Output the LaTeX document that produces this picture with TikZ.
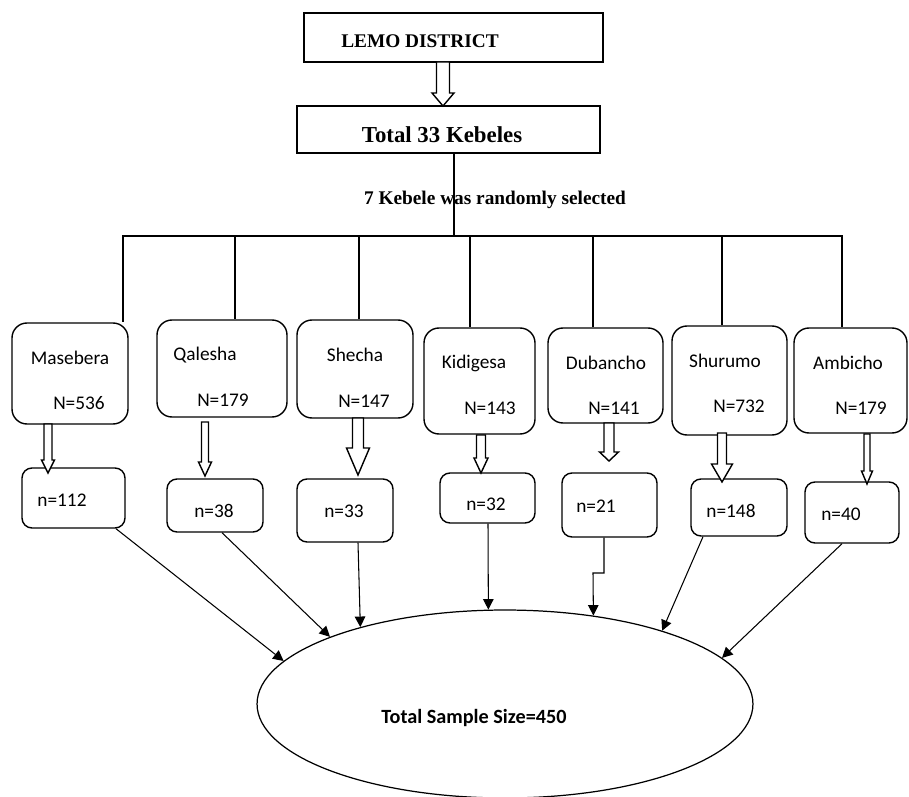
\documentclass[tikz,border=0pt]{standalone}
\usepackage{fontspec}
\setmainfont{Liberation Serif}
\newfontfamily\calibri{Carlito}
\usetikzlibrary{positioning, calc, arrows.meta, shapes.geometric}

% hollow block arrow pointing down: x, y top, y tip, shaft width, head width, head length
\newcommand{\hollowdown}[6]{%
  \draw[hollow] (#1-#4/2,#2) -- (#1-#4/2,#3-#6) -- (#1-#5/2,#3-#6) -- (#1,#3)
    -- (#1+#5/2,#3-#6) -- (#1+#4/2,#3-#6) -- (#1+#4/2,#2) -- cycle;
}

\begin{document}
\begin{tikzpicture}[
  x=0.02cm, y=-0.02cm,
  font=\calibri\fontsize{11}{13}\selectfont,
  topbox/.style={draw, line width=0.8pt, inner sep=0pt},
  kbox/.style={draw, rounded corners=0.3cm, line width=0.8pt, inner sep=0pt},
  nbox/.style={draw, rounded corners=0.2cm, line width=0.8pt, inner sep=0pt},
  lbl/.style={inner sep=0pt, anchor=base},
  hollow/.style={draw, fill=white, line width=0.8pt},
  tree/.style={line width=0.6pt},
  pointer/.style={line width=0.6pt, -{Triangle[length=6pt,width=6pt]}},
]
\useasboundingbox (0,0) rectangle (909,797);

% ---- district and kebele total ----
\node[topbox, minimum width=5.98cm, minimum height=0.98cm] (D) at (453.5,37.5) {};
\node[lbl, font=\rmfamily\bfseries\fontsize{11}{13}\selectfont] (D-name) at (420,48) {LEMO DISTRICT};
\node[topbox, minimum width=6.06cm, minimum height=0.94cm] (T) at (448.5,129.5) {};
\node[lbl, font=\bfseries\fontsize{13}{15}\selectfont] (T-name) at (442,143)
  {Total 33 {\rmfamily Kebeles}};
\hollowdown{443}{62}{106}{13}{22}{13}

% ---- selected kebeles (population) ----
\foreach \k/\nm/\xl/\yt/\xr/\yb/\nx/\ny/\Nv/\Nx/\Ny in {
  1/Masebera/12/323/128/424/70/364/536/79/409,
  2/Qalesha/157/320/287/417/205/360/179/223/406,
  3/Shecha/297/320/413/418/355/361/147/364/407,
  4/Kidigesa/424/328/535/434/474/368/143/490/414,
  5/Dubancho/548/328/663/423/606/369/141/614/414,
  6/Shurumo/672/326/787/435/725/367/732/739/412,
  7/Ambicho/794/328/907/433/848/369/179/861/414}{
  \node[kbox, minimum width={(\xr-\xl)*0.02cm}, minimum height={(\yb-\yt)*0.02cm}]
    (U\k) at ({(\xl+\xr)/2},{(\yt+\yb)/2}) {};
  \node[lbl] (U\k-name) at (\nx,\ny) {\nm};
  \node[lbl] (U\k-val) at (\Nx,\Ny) {N=\Nv};
}

% ---- selection tree ----
\foreach \k/\vx in {1/123,2/235,3/359,4/470,5/593,6/722,7/842}{
  \draw[tree] (T.south -| 454,0) -- (454,236) -| (U\k.north -| \vx,0);
}
\node[lbl, font=\rmfamily\bfseries\fontsize{11}{13}\selectfont] (sel) at (495,205)
  {7 Kebele was randomly selected};

% ---- samples per kebele ----
\foreach \k/\xl/\yt/\xr/\yb/\tx/\ty/\nv in {
  1/22/468/125/528/62/506/112,
  2/167/479/263/532/214/517/38,
  3/297/479/393/542/344/517/33,
  4/440/473/535/523/486/510/32,
  5/562/473/657/537/596/512/21,
  6/691/479/787/536/731/517/148,
  7/805/482/899/543/841/520/40}{
  \node[nbox, minimum width={(\xr-\xl)*0.02cm}, minimum height={(\yb-\yt)*0.02cm}]
    (L\k) at ({(\xl+\xr)/2},{(\yt+\yb)/2}) {};
  \node[lbl] (L\k-val) at (\tx,\ty) {n=\nv};
}

% hollow arrows between the two rows
\foreach \ax/\ya/\yb/\sw/\hw/\hl in {48/424/473/8/13/13, 205/422/476/7/13/14,
    358/418/475/11/23/27, 481/435/473/9/14/15, 609/423/461/10/19/9,
    722/433/482/9/21/18, 867/434/484/6/11/13}{
  \hollowdown{\ax}{\ya}{\yb}{\sw}{\hw}{\hl}
}

% ---- total sample ----
\node[draw, ellipse, line width=0.7pt, minimum width=9.92cm, minimum height=3.76cm,
  inner sep=0pt] (total) at (505,704) {};
\node[lbl, font=\calibri\bfseries\fontsize{11.5}{13}\selectfont] (total-text) at (474,723)
  {Total Sample Size=450};

\draw[pointer] (L1.south -| 116,0) -- (total.169);
\draw[pointer] (L2.south -| 222,0) -- (total.159);
\draw[pointer] (L3.south -| 358,0) -- (total.152.75);
\draw[pointer] (L4.south -| 488,0) -- (total.100.27);
\draw[pointer] (L5.south -| 604,0) -- (604,573) -- (593,573) -- (total.45);
\draw[pointer] (L6.south -| 703,0) -- (total.25.8);
\draw[pointer] (L7.south -| 842,0) -- (total.12.2);

\end{tikzpicture}
\end{document}
